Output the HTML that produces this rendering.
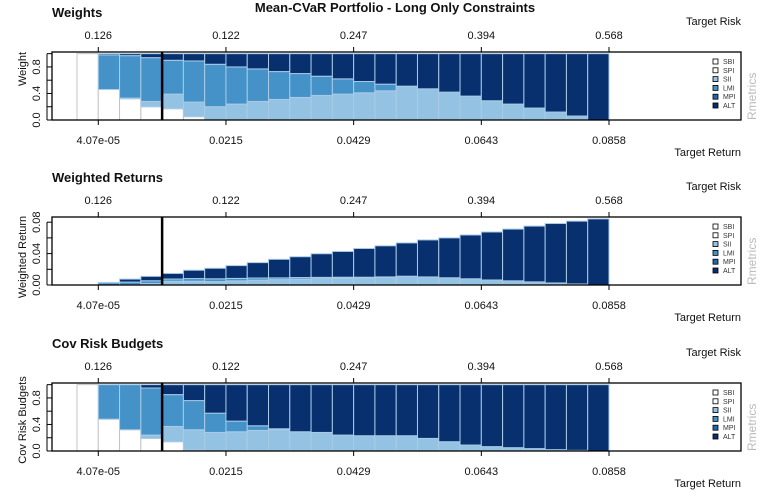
<!DOCTYPE html>
<html><head><meta charset="utf-8"><style>
html,body{margin:0;padding:0;background:#fff;}
svg{display:block;font-family:"Liberation Sans",Arial,sans-serif;}
</style></head><body>
<svg id="chart" width="781" height="498" viewBox="0 0 781 498" xmlns="http://www.w3.org/2000/svg">
<text x="395" y="12" text-anchor="middle" font-size="13" font-weight="bold" fill="#111">Mean-CVaR Portfolio - Long Only Constraints</text>
</svg>
<script>
const topTickLabels = ["0.126","0.122","0.247","0.394","0.568"];
const bottomTickLabels = ["4.07e-05","0.0215","0.0429","0.0643","0.0858"];
const assets = ["SBI","SPI","SII","LMI","MPI","ALT"];
// Weights
const wSBI = [1,0.46,0.32,0.2,0.17,0.05,0,0,0,0,0,0,0,0,0,0,0,0,0,0,0,0,0,0,0];
const wSII = [0,0,0.01,0.08,0.22,0.22,0.2,0.24,0.28,0.31,0.34,0.37,0.39,0.41,0.44,0.51,0.47,0.42,0.36,0.29,0.24,0.18,0.12,0.06,0];
const wLMI = [0,0.52,0.64,0.66,0.51,0.62,0.64,0.56,0.49,0.42,0.36,0.29,0.23,0.17,0.1,0,0,0,0,0,0,0,0,0,0];
const wALT = [0,0.02,0.03,0.06,0.1,0.11,0.16,0.2,0.23,0.27,0.3,0.34,0.38,0.42,0.46,0.49,0.53,0.58,0.64,0.71,0.76,0.82,0.88,0.94,1];
// Weighted returns
const rSBI = [0,0,0,0,0,0,0,0,0,0,0,0,0,0,0,0,0,0,0,0,0,0,0,0,0];
const rSII = [0,0,0.0002,0.0018,0.0048,0.0048,0.0044,0.0053,0.0062,0.0068,0.0075,0.0081,0.0086,0.009,0.0097,0.0112,0.0103,0.0092,0.0079,0.0064,0.0053,0.004,0.0026,0.0013,0];
const rLMI = [0,0.0029,0.0035,0.0036,0.0028,0.0034,0.0035,0.0031,0.0027,0.0023,0.002,0.0016,0.0013,0.0009,0.0006,0,0,0,0,0,0,0,0,0,0];
const rALT = [0,0.0004,0.0038,0.0056,0.0071,0.0106,0.0134,0.0163,0.0196,0.0236,0.0265,0.0301,0.0328,0.0366,0.0396,0.0424,0.0471,0.0508,0.0558,0.0611,0.0659,0.071,0.0757,0.08,0.0842];
// Cov risk budgets
const bSBI = [1,0.48,0.32,0.19,0.14,0.015,0,0,0,0,0,0,0,0,0,0,0,0,0,0,0,0,0,0,0];
const bSII = [0,0,0,0.05,0.23,0.305,0.28,0.29,0.31,0.32,0.29,0.28,0.24,0.23,0.23,0.23,0.19,0.14,0.09,0.066,0.05,0.036,0.02,0.01,0];
const bLMI = [0,0.52,0.68,0.71,0.48,0.44,0.29,0.16,0.07,0.015,0,0,0,0,0,0,0,0,0,0,0,0,0,0,0];
const bALT = [0,0,0,0.05,0.15,0.24,0.43,0.55,0.62,0.665,0.71,0.72,0.76,0.77,0.77,0.77,0.81,0.86,0.91,0.934,0.95,0.964,0.98,0.99,1];

const NS="http://www.w3.org/2000/svg";
const svg=document.getElementById('chart');
function mk(tag,attrs,parent){const e=document.createElementNS(NS,tag);for(const k in attrs)e.setAttribute(k,attrs[k]);(parent||svg).appendChild(e);return e;}
const colors={SBI:"#ffffff",SPI:"#ffffff",SII:"#93c2e3",LMI:"#4592c9",MPI:"#2168ae",ALT:"#082f6e"};
const borders={SBI:"#c4c4c4",SPI:"#c4c4c4",SII:"#a9cbe6",LMI:"#a9cbe6",MPI:"#a9cbe6",ALT:"#a9cbe6"};
const X0=52,X1=741,BAR0=77,BARW=(609-77)/25;
function xBar(i){return BAR0+i*BARW;}
function xTick(k){return BAR0+(k*6+1)*BARW;}

function panel(name,title,ylab,ylabY,top,ymax,ticks,tickLbls,series){
  const bot=top+68;
  const g=mk('g',{});
  
  
  const yS=v=>bot-(v/ymax)*(bot-top);
  const t=mk('text',{x:52,y:top-35,'font-size':13,'font-weight':'bold',fill:'#111'},g);t.textContent=title;
  
  
  const tr=mk('text',{x:741,y:top-27,'text-anchor':'end','font-size':11,fill:'#111'},g);tr.textContent="Target Risk";
  
  
  const trr=mk('text',{x:741,y:bot+36,'text-anchor':'end','font-size':11,fill:'#111'},g);trr.textContent="Target Return";
  
  
  // bars
  const n=series[0][1].length;
  for(let i=0;i<n;i++){
    let acc=0;
    for(const [a,arr] of series){
      const v=arr[i]; if(v<=0)continue;
      const y1=yS(acc+v),y0=yS(acc);
      const r=mk('rect',{x:xBar(i),y:y1,width:BARW,height:Math.max(0,y0-y1),fill:colors[a],stroke:borders[a],'stroke-width':1},g);
      
      
      acc+=v;
    }
  }
  const bx=mk('rect',{x:X0,y:top,width:X1-X0,height:bot-top,fill:'none',stroke:'#000','stroke-width':1.3},g);
  
  
  const vl=mk('line',{x1:xBar(4),x2:xBar(4),y1:top,y2:bot,stroke:'#000','stroke-width':2.5},g);
  
  
  for(let k=0;k<5;k++){
    const x=xTick(k);
    mk('line',{x1:x,x2:x,y1:top-5,y2:top,stroke:'#000'},g);
    mk('line',{x1:x,x2:x,y1:bot,y2:bot+5,stroke:'#000'},g);
    const a=mk('text',{x:x,y:top-13,'text-anchor':'middle','font-size':11,fill:'#111'},g);a.textContent=topTickLabels[k];
    
    
    const b=mk('text',{x:x,y:bot+24,'text-anchor':'middle','font-size':11,fill:'#111'},g);b.textContent=bottomTickLabels[k];
    
    
  }
  mk('line',{x1:X0-5,x2:X0-5,y1:yS(ticks[0]),y2:yS(ticks[ticks.length-1]),stroke:'#000'},g);
  ticks.forEach(v=>{mk('line',{x1:X0-5,x2:X0,y1:yS(v),y2:yS(v),stroke:'#000'},g);});
  tickLbls.forEach(([v,l])=>{
    const y=yS(v);
    const tt=mk('text',{x:0,y:0,transform:`translate(40,${y}) rotate(-90)`,'text-anchor':'middle','font-size':11,fill:'#111'},g);tt.textContent=l;
    
    
  });
  const yl=mk('text',{x:0,y:0,transform:`translate(26,${ylabY}) rotate(-90)`,'text-anchor':'middle','font-size':11,fill:'#111'},g);yl.textContent=ylab;
  
  
  assets.forEach((a,j)=>{
    const y=top+7+j*8.8;
    mk('rect',{x:713,y:y,width:5,height:5,fill:colors[a],stroke:'#000','stroke-width':0.8},g);
    const lt=mk('text',{x:723,y:y+5,'font-size':7,fill:'#333'},g);lt.textContent=a;
    
    
  });
  const rm=mk('text',{x:0,y:0,transform:`translate(756,${bot}) rotate(-90)`,'font-size':12,fill:'#bbb'},g);rm.textContent="Rmetrics";
  
  
}
panel('weights','Weights','Weight',69,52,1.025,[0,0.2,0.4,0.6,0.8,1.0],[[0,"0.0"],[0.4,"0.4"],[0.8,"0.8"]],
  [["SBI",wSBI],["SII",wSII],["LMI",wLMI],["ALT",wALT]]);
panel('weighted-returns','Weighted Returns','Weighted Return',257,217,0.0866,[0,0.02,0.04,0.06,0.08],[[0,"0.00"],[0.04,"0.04"],[0.08,"0.08"]],
  [["SBI",rSBI],["SII",rSII],["LMI",rLMI],["ALT",rALT]]);
panel('risk-budgets','Cov Risk Budgets','Cov Risk Budgets',420,383,1.025,[0,0.2,0.4,0.6,0.8,1.0],[[0,"0.0"],[0.4,"0.4"],[0.8,"0.8"]],
  [["SBI",bSBI],["SII",bSII],["LMI",bLMI],["ALT",bALT]]);
</script>
</body></html>
